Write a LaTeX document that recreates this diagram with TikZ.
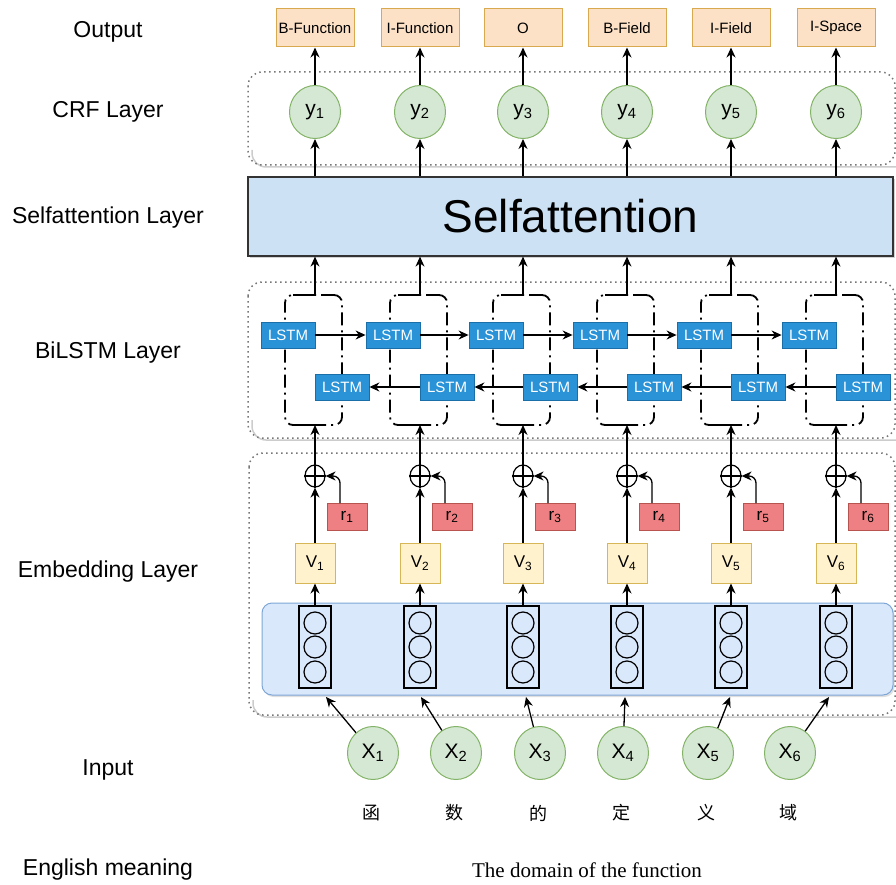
\documentclass[tikz,border=0pt]{standalone}
\usepackage{fontspec}
\setmainfont{Liberation Sans}
\newfontfamily\serifb{Liberation Serif}
\newfontfamily\cjk{Noto Sans CJK SC}
\usetikzlibrary{arrows.meta,shapes.geometric,shadows,calc}
\definecolor{outfill}{HTML}{FCE1C6}
\definecolor{outdraw}{HTML}{D8A94E}
\definecolor{gfill}{HTML}{D5E8D4}
\definecolor{gdraw}{HTML}{82B366}
\definecolor{safill}{HTML}{CCE1F3}
\definecolor{lstmc}{HTML}{2A93D8}
\definecolor{lstmd}{HTML}{1A6FA8}
\definecolor{rfill}{HTML}{EE7F82}
\definecolor{rdraw}{HTML}{B85450}
\definecolor{vfill}{HTML}{FFF2CC}
\definecolor{vdraw}{HTML}{D6B656}
\definecolor{efill}{HTML}{DAE8FC}
\definecolor{edraw}{HTML}{7EA6D6}
\definecolor{dotc}{HTML}{777777}
\begin{document}
\begin{tikzpicture}[x=1pt,y=-1pt,
  lbl/.style={font=\fontsize{23}{27}\selectfont},
  arr/.style={-{Stealth[length=10pt,width=9pt]}, line width=1.3pt},
  outbox/.style={draw=outdraw, fill=outfill, line width=1pt, minimum width=78pt, minimum height=38pt, inner sep=0pt, font=\fontsize{15}{18}\selectfont},
  gnode/.style={ellipse, draw=gdraw, fill=gfill, line width=1pt, minimum width=51pt, minimum height=53pt, inner sep=0pt, font=\fontsize{21}{24}\selectfont},
  lstmbox/.style={draw=lstmd, fill=lstmc, text=white, line width=0.8pt, minimum width=54pt, minimum height=26pt, inner sep=0pt, font=\fontsize{15}{17}\selectfont},
  brk/.style={draw, line width=1.8pt, rounded corners=8pt, dash pattern=on 13pt off 5pt on 2pt off 5pt, minimum width=57pt, minimum height=130pt, inner sep=0pt},
  container/.style={draw=dotc, line width=1.5pt, dash pattern=on 1.5pt off 3.5pt, rounded corners=14pt},
  plusnode/.style={ellipse, draw, line width=1.2pt, minimum width=20pt, minimum height=22pt, inner sep=0pt},
  rbox/.style={draw=rdraw, fill=rfill, line width=1pt, minimum width=40pt, minimum height=27pt, inner sep=0pt, font=\fontsize{17}{19}\selectfont},
  vbox/.style={draw=vdraw, fill=vfill, line width=1pt, minimum width=40pt, minimum height=40pt, inner sep=0pt, font=\fontsize{17}{19}\selectfont},
  vecbox/.style={draw, line width=1.3pt, minimum width=32pt, minimum height=82pt, inner sep=0pt},
  unit/.style={circle, draw, line width=1.2pt, minimum size=22pt, inner sep=0pt},
  chr/.style={font=\cjk\fontsize{18}{20}\selectfont}
]
\useasboundingbox (0,0) rectangle (896,885);

% left labels
\node[lbl] (L1) at (108,32) {Output};
\node[lbl] (L2) at (108,112) {CRF Layer};
\node[lbl] (L3) at (108,218) {Selfattention Layer};
\node[lbl] (L4) at (108,353) {BiLSTM Layer};
\node[lbl] (L5) at (108,572) {Embedding Layer};
\node[lbl] (L6) at (108,770) {Input};
\node[lbl] (L7) at (108,870) {English meaning};

% container shadows
\draw[line width=1.5pt, gray!40, rounded corners=14pt] (252,150) -- (252,167) -- (897,167);
\draw[line width=1.5pt, gray!40, rounded corners=14pt] (252,420) -- (252,440) -- (897,440);
\draw[line width=1.5pt, gray!40, rounded corners=14pt] (253,700) -- (253,717) -- (897,717);
% containers
\draw[container] (248,72) rectangle (895,165);
\draw[container] (248,282) rectangle (895,438);
\draw[container] (249,453) rectangle (895,715);
\draw[draw=edraw, fill=efill, line width=1pt, rounded corners=10pt, drop shadow={opacity=0.25, shadow xshift=1.5pt, shadow yshift=-2pt}] (262,603) rectangle (893,695);

% self attention
\node[draw=black!80, fill=safill, line width=1.2pt, minimum width=645pt, minimum height=79pt, inner sep=0pt,
  drop shadow={opacity=0.35, shadow xshift=2pt, shadow yshift=-2pt},
  font=\fontsize{46}{50}\selectfont] (sa) at (570.5,216.5) {Selfattention};

\foreach \i/\c/\o in {1/315/B-Function,2/420/I-Function,3/523/O,4/627/B-Field,5/731/I-Field,6/836/I-Space} {
  \node[outbox] (out\i) at (\c,28) {\o};
  \node[gnode] (y\i) at (\c,112) {y\textsubscript{\i}};
  \draw[arr] (y\i) -- (out\i);
  \draw[arr] (y\i |- sa.north) -- (y\i);
  % bilstm bracket
  \node[brk] (b\i) at (\c-1.5,360) {};
  \coordinate (bt\i) at (\c,295);
  \coordinate (bb\i) at (\c,425);
  \draw[line width=1.8pt] (bt\i) -- ++(-22,0);
  \draw[line width=1.8pt] (bb\i) -- ++(-22,0);
  \draw[arr] (bt\i) -- (bt\i |- sa.south);
  \node[lstmbox] (f\i) at (\c-27,335) {LSTM};
  \node[lstmbox] (k\i) at (\c+27,387) {LSTM};
  % embedding
  \node[plusnode] (p\i) at (\c,476) {};
  \draw[line width=1.2pt] (p\i.north) -- (p\i.south) (p\i.west) -- (p\i.east);
  \node[rbox] (r\i) at (\c+32,517) {r\textsubscript{\i}};
  \node[vbox] (v\i) at (\c,563) {V\textsubscript{\i}};
  \node[vecbox] (e\i) at (\c,647) {};
  \node[unit] (ca\i) at (\c,623) {};
  \node[unit] (cb\i) at (\c,647) {};
  \node[unit] (cc\i) at (\c,672) {};
  \draw[arr] (p\i) -- (bb\i);
  \draw[arr] (v\i) -- (p\i);
  \draw[arr, rounded corners=7pt] ([xshift=-7pt]r\i.north) |- (p\i.east);
  \draw[arr] (e\i) -- (v\i);
}

\foreach \i/\j in {1/2,2/3,3/4,4/5,5/6} {
  \draw[arr] (f\i) -- (f\j);
  \draw[arr] (k\j) -- (k\i);
}

\foreach \i/\c/\t/\ch in {1/373/326/函,2/456/421/数,3/540/526/的,4/623/625/定,5/708/730/义,6/790/829/域} {
  \node[gnode] (x\i) at (\c,753) {X\textsubscript{\i}};
  \coordinate (t\i) at (\t,697);
  \draw[arr] (x\i) -- (t\i);
  \node[chr] (ch\i) at (\c-2,813) {\ch};
}

\node[font=\serifb\fontsize{21}{24}\selectfont] (eng) at (587,870) {The domain of the function};
\end{tikzpicture}
\end{document}
